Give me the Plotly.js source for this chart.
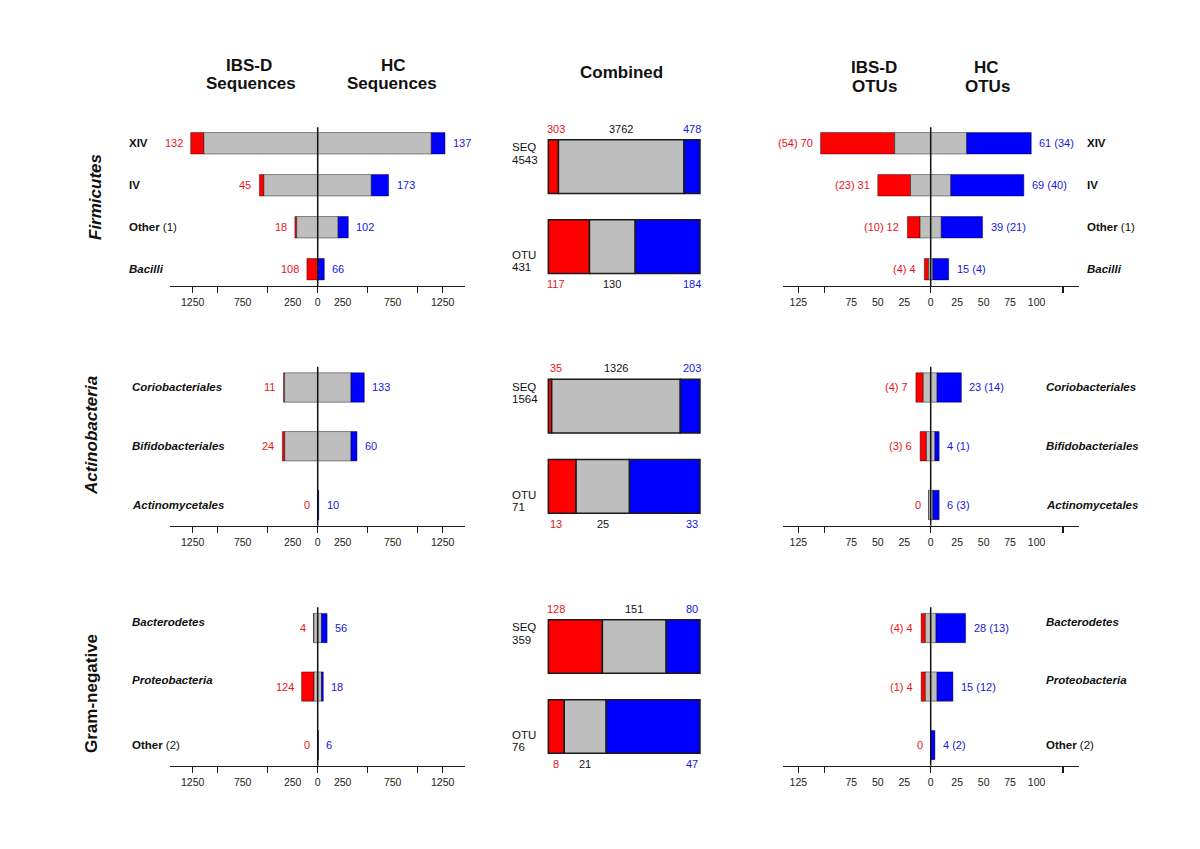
<!DOCTYPE html>
<html><head><meta charset="utf-8">
<script src="https://cdn.plot.ly/plotly-3.0.1.min.js"></script>
<style>html,body{margin:0;padding:0;background:#fff}#chart{width:1200px;height:849px}</style>
</head><body><div id="chart"></div>
<script>
// ================= DATA =================
// Firmicutes
const firmCats = ["XIV", "IV", "Other (1)", "Bacilli"];
const firmSeqIbsOnly = [132, 45, 18, 108];
const firmSeqHcOnly = [137, 173, 102, 66];
const firmSeqSharedIbs = [1138, 538, 210, 0];
const firmSeqSharedHc = [1136, 536, 204, 0];
const firmOtuIbsOnly = [70, 31, 12, 4];
const firmOtuIbsParen = [54, 23, 10, 4];
const firmOtuHcOnly = [61, 69, 39, 15];
const firmOtuHcParen = [34, 40, 21, 4];
const firmOtuSharedIbs = [34, 19, 10, 2];
const firmOtuSharedHc = [34, 19, 10, 2];
const firmCombinedSeq = [303, 3762, 478];   // IBS-D only, shared, HC only
const firmCombinedOtu = [117, 130, 184];

// Actinobacteria
const actiCats = ["Coriobacteriales", "Bifidobacteriales", "Actinomycetales"];
const actiSeqIbsOnly = [11, 24, 0];
const actiSeqHcOnly = [133, 60, 10];
const actiSeqSharedIbs = [331, 329, 0];
const actiSeqSharedHc = [333, 333, 0];
const actiOtuIbsOnly = [7, 6, 0];
const actiOtuIbsParen = [4, 3, null];
const actiOtuHcOnly = [23, 4, 6];
const actiOtuHcParen = [14, 1, 3];
const actiOtuSharedIbs = [7, 4, 2];
const actiOtuSharedHc = [6, 4, 2];
const actiCombinedSeq = [35, 1326, 203];
const actiCombinedOtu = [13, 25, 33];

// Gram-negative
const gramCats = ["Bacterodetes", "Proteobacteria", "Other (2)"];
const gramSeqIbsOnly = [4, 124, 0];
const gramSeqHcOnly = [56, 18, 6];
const gramSeqSharedIbs = [38, 37, 0];
const gramSeqSharedHc = [38, 38, 0];
const gramOtuIbsOnly = [4, 4, 0];
const gramOtuIbsParen = [4, 1, null];
const gramOtuHcOnly = [28, 15, 4];
const gramOtuHcParen = [13, 12, 2];
const gramOtuSharedIbs = [5, 5, 0];
const gramOtuSharedHc = [5, 6, 0];
const gramCombinedSeq = [128, 151, 80];
const gramCombinedOtu = [8, 21, 47];

const groupNames = ["Firmicutes", "Actinobacteria", "Gram-negative"];
const combinedBarNames = ["SEQ", "OTU"];

// axis ticks
const seqTickVals = [-1250, -750, -250, 0, 250, 750, 1250];
const seqTickMarks = [-1250, -1000, -500, 0, 500, 1000, 1250];
const otuTickVals = [-125, -75, -50, -25, 0, 25, 50, 75, 100];
const otuTickMarks = [-125, -100, 0, 125];

// ================= STYLE / LAYOUT =================
const W = 1200, H = 849;
const FONT = 'Liberation Sans, Arial, Helvetica, sans-serif';
const RED = '#FF0000', GRAY = '#BEBEBE', BLUE = '#0000FF';
const TXT_RED = '#E8141B', TXT_BLUE = '#1717E0', TXT_DARK = '#111111';
const italicCats = new Set(["Bacilli", "Coriobacteriales", "Bifidobacteriales", "Actinomycetales", "Bacterodetes", "Proteobacteria"]);
const catYShift = {"Bacterodetes": 6.5, "Proteobacteria": 6.5};

const data = [];
const layout = {
  width: W, height: H, margin: {l: 0, r: 0, t: 0, b: 0},
  paper_bgcolor: '#ffffff', plot_bgcolor: 'rgba(0,0,0,0)',
  showlegend: false, barmode: 'overlay',
  font: {family: FONT, color: TXT_DARK},
  annotations: [], shapes: []
};
const suf = k => (k === 1 ? '' : String(k));
const px = v => v / W;
const py = v => 1 - v / H;

function fmtCat(name) {
  const m = name.match(/^(.*?)\s*(\(\d+\))$/);
  if (m) return '<b>' + m[1] + '</b> ' + m[2];
  return italicCats.has(name) ? '<b><i>' + name + '</i></b>' : '<b>' + name + '</b>';
}

let overlayIdx = 10;
function sidePanel(k, xDomPx, xRange, tickVals, tickMarks, yDom, yRange, bw,
                   cats, ibsOnly, shIbs, shHc, hcOnly, redText, blueText, labelX) {
  const xa = 'x' + suf(k), ya = 'y' + suf(k);
  const y = cats.map((_, i) => i);
  const line = {color: 'rgba(0,0,0,0.42)', width: 1};
  data.push({type: 'bar', orientation: 'h', xaxis: xa, yaxis: ya, y: y,
    x: ibsOnly, base: ibsOnly.map((v, i) => -(shIbs[i] + v)), width: bw,
    marker: {color: RED, line: line}, hoverinfo: 'skip'});
  data.push({type: 'bar', orientation: 'h', xaxis: xa, yaxis: ya, y: y,
    x: shIbs.map((v, i) => v + shHc[i]), base: shIbs.map(v => -v), width: bw,
    marker: {color: GRAY, line: line}, hoverinfo: 'skip'});
  data.push({type: 'bar', orientation: 'h', xaxis: xa, yaxis: ya, y: y,
    x: hcOnly, base: shHc, width: bw,
    marker: {color: BLUE, line: line}, hoverinfo: 'skip'});

  layout['xaxis' + suf(k)] = {
    domain: [px(xDomPx[0]), px(xDomPx[1])], range: xRange, anchor: ya,
    tickmode: 'array', tickvals: tickVals, ticktext: tickVals.map(v => String(Math.abs(v))),
    ticks: 'outside', ticklen: 6, tickcolor: 'rgba(0,0,0,0)',
    showline: true, linecolor: '#1a1a1a', linewidth: 1.2,
    showgrid: false, zeroline: false, fixedrange: true,
    tickfont: {size: 10.5, color: '#222', family: FONT}
  };
  layout['yaxis' + suf(k)] = {
    domain: yDom, range: yRange, anchor: xa, showline: false, showgrid: false,
    zeroline: false, showticklabels: false, ticks: '', fixedrange: true
  };
  const ko = overlayIdx++;
  layout['xaxis' + ko] = {
    overlaying: xa, anchor: ya, range: xRange, tickmode: 'array', tickvals: tickMarks,
    ticks: 'outside', ticklen: 6, tickwidth: 1.2, tickcolor: '#1a1a1a',
    showticklabels: false, showline: false, showgrid: false, zeroline: false, fixedrange: true
  };
  data.push({type: 'scatter', mode: 'markers', x: [], y: [], xaxis: 'x' + ko, yaxis: ya, hoverinfo: 'skip'});

  layout.shapes.push({type: 'line', xref: xa, yref: ya + ' domain', x0: 0, x1: 0, y0: 0, y1: 1,
    line: {color: '#111', width: 1.5}, layer: 'above'});

  cats.forEach((c, i) => {
    layout.annotations.push({xref: xa, yref: ya, x: -(shIbs[i] + ibsOnly[i]), y: i,
      xanchor: 'right', yanchor: 'middle', xshift: -6, text: redText[i], showarrow: false,
      font: {size: 11, color: TXT_RED}});
    layout.annotations.push({xref: xa, yref: ya, x: shHc[i] + hcOnly[i], y: i,
      xanchor: 'left', yanchor: 'middle', xshift: 6, text: blueText[i], showarrow: false,
      font: {size: 11, color: TXT_BLUE}});
    layout.annotations.push({xref: 'paper', yref: ya, x: px(labelX), y: i,
      xanchor: 'left', yanchor: 'middle', yshift: catYShift[c] || 0, text: fmtCat(c), showarrow: false,
      font: {size: 11.5, color: TXT_DARK}});
  });
}

function midPanel(k, yDom, seqVals, otuVals) {
  const xa = 'x' + suf(k), ya = 'y' + suf(k);
  const bars = [seqVals, otuVals];
  const tot = bars.map(b => b.reduce((a, c) => a + c, 0));
  const fr = bars.map((b, j) => b.map(v => v / tot[j]));
  const bw = 0.67;
  const line = {color: '#1a1a1a', width: 1.5};
  data.push({type: 'bar', orientation: 'h', xaxis: xa, yaxis: ya, y: [0, 1],
    x: fr.map(f => f[0]), base: [0, 0], width: bw, marker: {color: RED, line: line}, hoverinfo: 'skip'});
  data.push({type: 'bar', orientation: 'h', xaxis: xa, yaxis: ya, y: [0, 1],
    x: fr.map(f => f[1]), base: fr.map(f => f[0]), width: bw, marker: {color: GRAY, line: line}, hoverinfo: 'skip'});
  data.push({type: 'bar', orientation: 'h', xaxis: xa, yaxis: ya, y: [0, 1],
    x: fr.map(f => f[2]), base: fr.map(f => f[0] + f[1]), width: bw, marker: {color: BLUE, line: line}, hoverinfo: 'skip'});
  layout['xaxis' + suf(k)] = {domain: [px(546.8), px(701.5)], range: [-0.01, 1.01], anchor: ya,
    visible: false, showgrid: false, zeroline: false, fixedrange: true};
  layout['yaxis' + suf(k)] = {domain: yDom, range: [1.49, -0.49], anchor: xa,
    visible: false, showgrid: false, zeroline: false, fixedrange: true};

  bars.forEach((b, j) => {
    const edge = j === 0 ? -bw / 2 : 1 + bw / 2;
    const ys = j === 0 ? 11 : -10.6;
    const f = fr[j];
    const base = {xref: xa, yref: ya, y: edge, yshift: ys, xanchor: 'center', yanchor: 'middle', showarrow: false};
    layout.annotations.push(Object.assign({}, base, {x: 0.05, text: String(b[0]), font: {size: 11, color: TXT_RED}}));
    layout.annotations.push(Object.assign({}, base, {x: f[0] + f[1] / 2, text: String(b[1]), font: {size: 11, color: TXT_DARK}}));
    layout.annotations.push(Object.assign({}, base, {x: 0.95, text: String(b[2]), font: {size: 11, color: TXT_BLUE}}));
    const s1 = j === 0 ? -7.4 : 18.7, s2 = j === 0 ? -20 : 6.2;
    layout.annotations.push({xref: 'paper', yref: ya, x: px(510), xanchor: 'left', yanchor: 'middle', y: edge, yshift: s1,
      text: combinedBarNames[j], showarrow: false, font: {size: 11.5, color: TXT_DARK}});
    layout.annotations.push({xref: 'paper', yref: ya, x: px(510), xanchor: 'left', yanchor: 'middle', y: edge, yshift: s2,
      text: String(tot[j]), showarrow: false, font: {size: 11.5, color: TXT_DARK}});
  });
}

const redSeqText = arr => arr.map(v => String(v));
const blueSeqText = arr => arr.map(v => String(v));
const redOtuText = (v, p) => v.map((x, i) => (p[i] == null ? '' : '(' + p[i] + ') ') + x);
const blueOtuText = (v, p) => v.map((x, i) => x + (p[i] == null ? '' : ' (' + p[i] + ')'));

const rows = [
  {top: 127.3, bot: 286, range: [3.4, -0.381], bw: 0.51, leftX: 127, rightX: 1085,
   cats: firmCats, sIbs: firmSeqIbsOnly, sHc: firmSeqHcOnly, sShI: firmSeqSharedIbs, sShH: firmSeqSharedHc,
   oIbs: firmOtuIbsOnly, oIbsP: firmOtuIbsParen, oHc: firmOtuHcOnly, oHcP: firmOtuHcParen,
   oShI: firmOtuSharedIbs, oShH: firmOtuSharedHc, cSeq: firmCombinedSeq, cOtu: firmCombinedOtu,
   gx: 95, gy: 197, gItalic: true},
  {top: 366.7, bot: 525.7, range: [2.353, -0.354], bw: 0.5, leftX: 130, rightX: 1044,
   cats: actiCats, sIbs: actiSeqIbsOnly, sHc: actiSeqHcOnly, sShI: actiSeqSharedIbs, sShH: actiSeqSharedHc,
   oIbs: actiOtuIbsOnly, oIbsP: actiOtuIbsParen, oHc: actiOtuHcOnly, oHcP: actiOtuHcParen,
   oShI: actiOtuSharedIbs, oShH: actiOtuSharedHc, cSeq: actiCombinedSeq, cOtu: actiCombinedOtu,
   gx: 91, gy: 436, gItalic: true},
  {top: 607.3, bot: 765.7, range: [2.353, -0.354], bw: 0.5, leftX: 130, rightX: 1044,
   cats: gramCats, sIbs: gramSeqIbsOnly, sHc: gramSeqHcOnly, sShI: gramSeqSharedIbs, sShH: gramSeqSharedHc,
   oIbs: gramOtuIbsOnly, oIbsP: gramOtuIbsParen, oHc: gramOtuHcOnly, oHcP: gramOtuHcParen,
   oShI: gramOtuSharedIbs, oShH: gramOtuSharedHc, cSeq: gramCombinedSeq, cOtu: gramCombinedOtu,
   gx: 91, gy: 694, gItalic: false}
];

rows.forEach((r, ri) => {
  const yDom = [py(r.bot), py(r.top)];
  sidePanel(ri * 3 + 1, [170.2, 465.2], [-1475, 1475], seqTickVals, seqTickMarks, yDom, r.range, r.bw,
    r.cats, r.sIbs, r.sShI, r.sShH, r.sHc, redSeqText(r.sIbs), blueSeqText(r.sHc), r.leftX);
  midPanel(ri * 3 + 2, yDom, r.cSeq, r.cOtu);
  sidePanel(ri * 3 + 3, [782.5, 1078.9], [-140, 140], otuTickVals, otuTickMarks, yDom, r.range, r.bw,
    r.cats, r.oIbs, r.oShI, r.oShH, r.oHc, redOtuText(r.oIbs, r.oIbsP), blueOtuText(r.oHc, r.oHcP), r.rightX);
  const gtxt = r.gItalic ? '<b><i>' + groupNames[ri] + '</i></b>' : '<b>' + groupNames[ri] + '</b>';
  layout.annotations.push({xref: 'paper', yref: 'paper', x: px(r.gx), y: py(r.gy), textangle: -90,
    xanchor: 'center', yanchor: 'middle', text: gtxt, showarrow: false, font: {size: 17, color: TXT_DARK}});
});

// column titles
const titles = [
  ['IBS-D', 249, 65.5], ['Sequences', 251, 83.3], ['HC', 393, 65.5], ['Sequences', 392, 83.3],
  ['Combined', 621.7, 73], ['IBS-D', 874, 67.5], ['OTUs', 874, 86.7], ['HC', 986, 67.5], ['OTUs', 987, 86.7]
];
titles.forEach(t => layout.annotations.push({xref: 'paper', yref: 'paper', x: px(t[1]), y: py(t[2]),
  xanchor: 'center', yanchor: 'middle', text: '<b>' + t[0] + '</b>', showarrow: false, font: {size: 17, color: TXT_DARK}}));

Plotly.newPlot('chart', data, layout, {staticPlot: true, displayModeBar: false});
</script>
</body></html>
